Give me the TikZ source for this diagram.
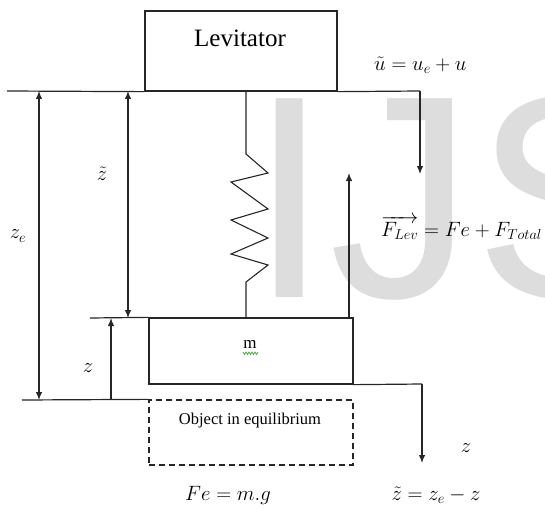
\documentclass[tikz,border=0pt]{standalone}
\usepackage{fontspec}
\setmainfont{Liberation Serif}
\newfontfamily\wmfont{Liberation Sans}
\usetikzlibrary{arrows.meta}
\definecolor{wmgray}{RGB}{221,221,221}
\definecolor{wavegreen}{RGB}{70,170,60}
\tikzset{
  ln/.style={line width=1.2pt, black!85},
  arr/.style={ln, -{Latex[length=8pt,width=6.5pt]}},
  darr/.style={ln, {Latex[length=8pt,width=6.5pt]}-{Latex[length=8pt,width=6.5pt]}},
  solidbox/.style={draw, line width=1.3pt, black!85, rectangle, inner sep=0pt},
  dashbox/.style={draw, line width=1.3pt, black!85, dashed, dash pattern=on 6pt off 4pt, rectangle, inner sep=0pt},
  lbl/.style={inner sep=0pt, font=\fontsize{20}{24}\selectfont},
}
\begin{document}
\begin{tikzpicture}[x=1pt,y=-1pt]
\useasboundingbox (0,0) rectangle (545,508);
% watermark
\begin{scope}
\clip (0,0) rectangle (545,508);
\node[anchor=base west, inner sep=0pt, text=wmgray, font=\wmfont\fontsize{289}{289}\selectfont] (wm) at (249,297) {IJS};
\end{scope}
% blocks
\node[solidbox, minimum width=192pt, minimum height=80pt] (lev) at (241,51) {};
\node[font=\fontsize{25}{28}\selectfont, inner sep=0pt] (levtxt) at (240,38) {Levitator};
\node[solidbox, minimum width=204pt, minimum height=66pt] (mass) at (251,351) {};
\node[font=\fontsize{17}{20}\selectfont, inner sep=0pt] (mtxt) at (250,344) {m};
\node[dashbox, minimum width=204pt, minimum height=65pt] (obj) at (251,432.5) {};
\node[font=\fontsize{16.5}{20}\selectfont, inner sep=0pt] (objtxt) at (250,421) {Object in equilibrium};
% coordinates
\coordinate (tl) at (7,91);
\coordinate (tr) at (420,91);
\coordinate (ue) at (420,174);
\coordinate (ml) at (90,318);
\coordinate (bl) at (22,400);
\coordinate (mr) at (422,384);
\coordinate (ze) at (422,463);
\coordinate (za) at (39,91);
\coordinate (zb) at (39,400);
\coordinate (zta) at (128,91);
\coordinate (ztb) at (128,318);
\coordinate (zz0) at (111,400);
\coordinate (zz1) at (111,318);
\coordinate (fb) at (349,318);
\coordinate (ft) at (349,173);
% lines
\draw[ln] (tl) -- (lev.south west);
\draw[ln] (lev.south east) -- (tr);
\draw[arr] (tr) -- (ue);
\draw[ln] (ml) -- (mass.north west);
\draw[ln] (bl) -- (obj.north west);
\draw[ln] (mass.south east) -- (mr);
\draw[arr] (mr) -- (ze);
\draw[darr] (za) -- (zb);
\draw[darr] (zta) -- (ztb);
\draw[arr] (zz0) -- (zz1);
\draw[arr] (fb) -- (ft);
% spring
\draw[line width=1.1pt, black!85, line join=miter] (lev.south -| 246,0) -- (246,154) -- (268,173) -- (231,182) -- (268,209) -- (231,220) -- (268,238) -- (231,254) -- (268,265) -- (246,282) -- (mass.north -| 246,0);
% green wavy underline
\draw[wavegreen, line width=0.7pt] (243,352) -- (244.5,354.5) -- (246,352) -- (247.5,354.5) -- (249,352) -- (250.5,354.5) -- (252,352) -- (253.5,354.5) -- (255,352) -- (256.5,354.5) -- (258,352);
% labels
\node[lbl, anchor=west] (lu) at (374,65) {$\tilde{u} = u_e + u$};
\node[lbl] (lzt) at (102,174) {$\tilde{z}$};
\node[lbl] (lze) at (18,236) {$z_e$};
\node[lbl] (lz) at (88,368) {$z$};
\node[lbl, anchor=west] (lf) at (381,228) {$\overrightarrow{F_{Lev}} = Fe + F_{Total}$};
\node[lbl] (lz2) at (466,448) {$z$};
\node[lbl] (lfe) at (228,495) {$Fe = m.g$};
\node[lbl] (lzz) at (436,495) {$\tilde{z} = z_e - z$};
\end{tikzpicture}
\end{document}
